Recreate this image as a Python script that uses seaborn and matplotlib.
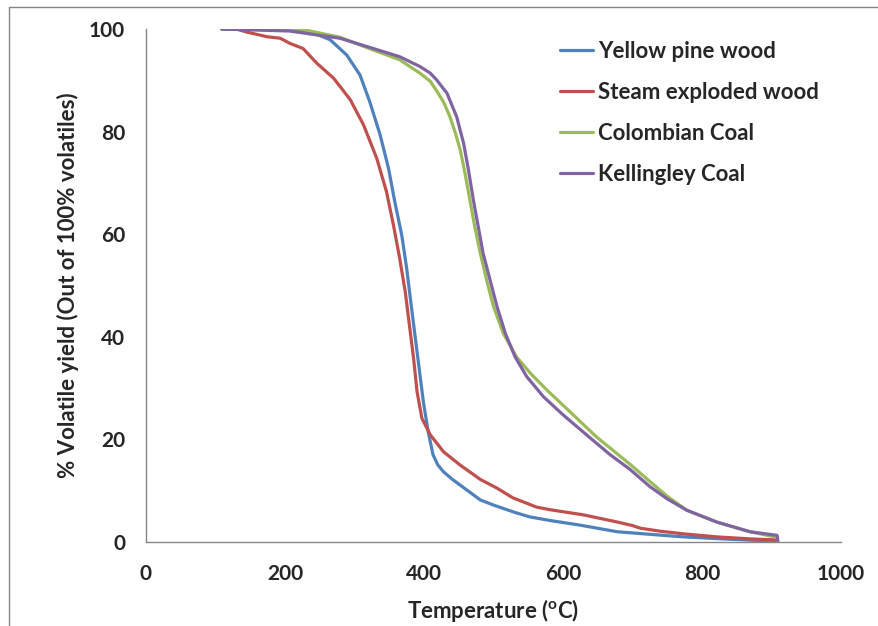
import numpy as np
import pandas as pd
import matplotlib
matplotlib.use("Agg")
import matplotlib.pyplot as plt
import seaborn as sns
from matplotlib.lines import Line2D

# values
pine_t = [109, 150, 200, 236, 265, 289, 308, 322, 337, 349, 358, 368, 375, 381, 387, 393, 399,
          406, 413, 420, 428, 440, 452, 481, 500, 530, 552, 581, 624, 678, 725, 773, 830, 880,
          908, 909]
pine_y = [100, 100, 99.8, 99.5, 97.9, 94.9, 91.0, 85.8, 79.3, 72.8, 66.3, 59.8, 53.4, 46.8, 40.3,
          33.9, 27.4, 21.5, 17.0, 15.0, 13.7, 12.3, 11.1, 8.2, 7.2, 5.8, 4.9, 4.2, 3.3, 2.0, 1.5,
          1.0, 0.6, 0.3, 0.2, 0.0]

steam_t = [109, 130, 145, 174, 193, 207, 226, 246, 270, 294, 313, 332, 346, 356, 365, 373, 379,
           385, 390, 397, 409, 428, 452, 481, 505, 528, 562, 581, 629, 678, 700, 711, 740, 773,
           821, 870, 908, 909]
steam_y = [100, 100, 99.4, 98.5, 98.2, 97.2, 96.2, 93.3, 90.4, 86.2, 81.3, 74.8, 68.3, 61.8,
           55.3, 48.8, 42.3, 35.8, 29.3, 24.1, 20.9, 17.6, 15.0, 12.2, 10.5, 8.6, 6.8, 6.3, 5.3,
           3.9, 3.2, 2.7, 2.1, 1.6, 1.0, 0.6, 0.4, 0.0]

colombian_t = [109, 222, 279, 327, 365, 394, 409, 418, 428, 437, 445, 452, 459, 466, 473, 481,
               490, 500, 514, 533, 553, 577, 610, 648, 696, 725, 750, 778, 821, 869, 908, 909]
colombian_y = [100, 100, 98.4, 95.9, 94.0, 91.4, 89.8, 88.0, 85.8, 83.0, 79.8, 76.5, 71.9, 66.7,
               61.5, 56.3, 51.1, 45.9, 40.7, 36.1, 32.9, 29.6, 25.4, 20.5, 15.2, 11.8, 8.9, 6.2,
               3.9, 2.0, 0.9, 0.3]

kellingley_t = [109, 207, 279, 327, 365, 394, 409, 418, 433, 447, 457, 464, 471, 478, 485, 495,
                505, 517, 531, 548, 572, 600, 639, 668, 696, 725, 750, 778, 821, 869, 908, 909]
kellingley_y = [100, 99.6, 98.2, 96.2, 94.6, 92.7, 91.4, 90.1, 87.5, 82.9, 77.7, 72.5, 66.7,
                61.5, 56.3, 51.1, 45.9, 40.7, 36.1, 32.2, 28.3, 24.8, 20.3, 17.0, 14.2, 10.8, 8.4,
                6.2, 3.9, 2.0, 1.3, 0.3]

names = ["Yellow pine wood", "Steam exploded wood", "Colombian Coal", "Kellingley Coal"]
colors = ["#4F81BD", "#C0504D", "#9BBB59", "#8064A2"]

frames = []
for name, t, y in zip(names, [pine_t, steam_t, colombian_t, kellingley_t],
                      [pine_y, steam_y, colombian_y, kellingley_y]):
    frames.append(pd.DataFrame({"T": t, "Y": y, "sample": name}))
df = pd.concat(frames, ignore_index=True)

sns.set_style("white")
plt.rcParams["font.family"] = ["Lato", "DejaVu Sans"]
plt.rcParams["font.weight"] = "bold"
plt.rcParams["mathtext.fontset"] = "custom"
plt.rcParams["mathtext.rm"] = "Lato:bold"
plt.rcParams["mathtext.default"] = "rm"

fig = plt.figure(figsize=(8.79, 6.26), dpi=100)
ax = fig.add_axes([146 / 879, 1 - 542 / 626, 695 / 879, 513 / 626])

sns.lineplot(data=df, x="T", y="Y", hue="sample", palette=colors, sort=False,
             linewidth=2.3, ax=ax, estimator=None)

ax.set_xlim(0, 1000)
ax.set_ylim(0, 100)
ax.set_xticks(range(0, 1001, 200))
ax.set_yticks(range(0, 101, 20))

for s in ["top", "right"]:
    ax.spines[s].set_visible(False)
for s in ["left", "bottom"]:
    ax.spines[s].set_color("#868686")
    ax.spines[s].set_linewidth(1)
ax.tick_params(axis="both", direction="out", length=5, width=1, color="#868686",
               labelsize=15, pad=10)
ax.tick_params(axis="x", pad=11)
for lbl in ax.get_xticklabels() + ax.get_yticklabels():
    lbl.set_fontweight("bold")

ax.set_xlabel(r"Temperature ($^{o}$C)", fontsize=16, fontweight="bold", labelpad=9)
ax.set_ylabel("% Volatile yield (Out of 100% volatiles)", fontsize=16, fontweight="bold",
              labelpad=7)

leg = ax.legend(loc="upper left", bbox_to_anchor=(0.567, 1.016), frameon=False,
                fontsize=16, handlelength=1.5, handletextpad=0.22, labelspacing=0.9)
for txt in leg.get_texts():
    txt.set_fontweight("bold")

# outer chart frame (top and left edges visible)
fig.add_artist(Line2D([9 / 879, 1], [1 - 7 / 626, 1 - 7 / 626], color="#868686", lw=1))
fig.add_artist(Line2D([9 / 879, 9 / 879], [0, 1 - 7 / 626], color="#868686", lw=1))

fig.savefig("out.png", dpi=100)
